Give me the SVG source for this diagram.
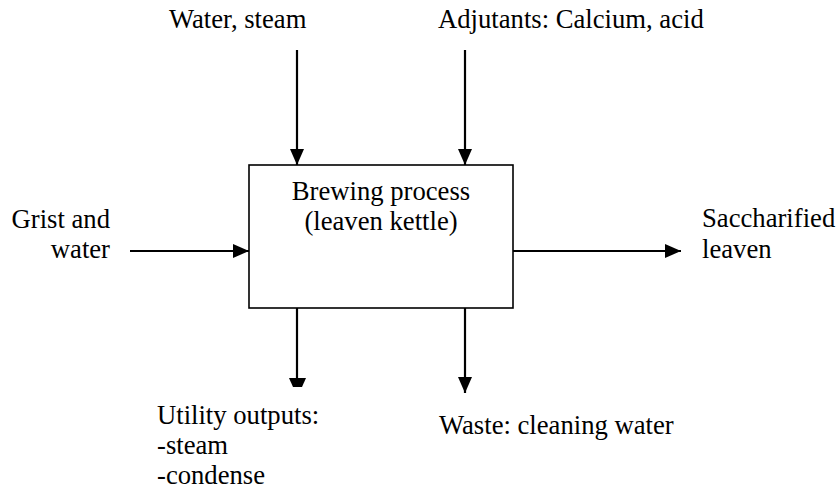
<svg xmlns="http://www.w3.org/2000/svg" width="837" height="493" viewBox="0 0 837 493">
<defs>
<style>
text{font-family:"Liberation Serif","Times New Roman",serif;font-size:26.67px;fill:#000}
.ln{stroke:#000;stroke-width:2.2;fill:none}
.box{stroke:#000;stroke-width:1.6;fill:#fff}
</style>
<marker id="ah" viewBox="0 0 16 14" refX="16" refY="7" markerWidth="16" markerHeight="14" markerUnits="userSpaceOnUse" orient="auto">
<path d="M0,0 L16,7 L0,14 Z" fill="#000"/>
</marker>
</defs>
<rect width="837" height="493" fill="#fff"/>
<g id="connectors">
<line class="ln" x1="297" y1="50" x2="297" y2="165" marker-end="url(#ah)"/>
<line class="ln" x1="465" y1="50" x2="465" y2="165" marker-end="url(#ah)"/>
<line class="ln" x1="130" y1="251" x2="249" y2="251" marker-end="url(#ah)"/>
<line class="ln" x1="513" y1="251" x2="681" y2="251" marker-end="url(#ah)"/>
<line class="ln" x1="297" y1="308" x2="297" y2="380"/>
<polygon points="289,378 306,378 302,387 293,387" fill="#000"/>
<line class="ln" x1="465" y1="308" x2="465" y2="393" marker-end="url(#ah)"/>
</g>
<g id="process">
<rect class="box" x="249" y="165" width="264" height="143"/>
<text x="381" y="200" text-anchor="middle">Brewing process</text>
<text x="381" y="230" text-anchor="middle">(leaven kettle)</text>
</g>
<g id="water-steam"><text x="169" y="28">Water, steam</text></g>
<g id="adjutants"><text x="438" y="28">Adjutants: Calcium, acid</text></g>
<g id="grist"><text x="110" y="228" text-anchor="end">Grist and</text><text x="110" y="258" text-anchor="end">water</text></g>
<g id="saccharified"><text x="702" y="227">Saccharified</text><text x="702" y="258">leaven</text></g>
<g id="utility"><text x="157" y="424">Utility outputs:</text><text x="157" y="454">-steam</text><text x="157" y="484">-condense</text></g>
<g id="waste"><text x="439" y="434">Waste: cleaning water</text></g>
</svg>
